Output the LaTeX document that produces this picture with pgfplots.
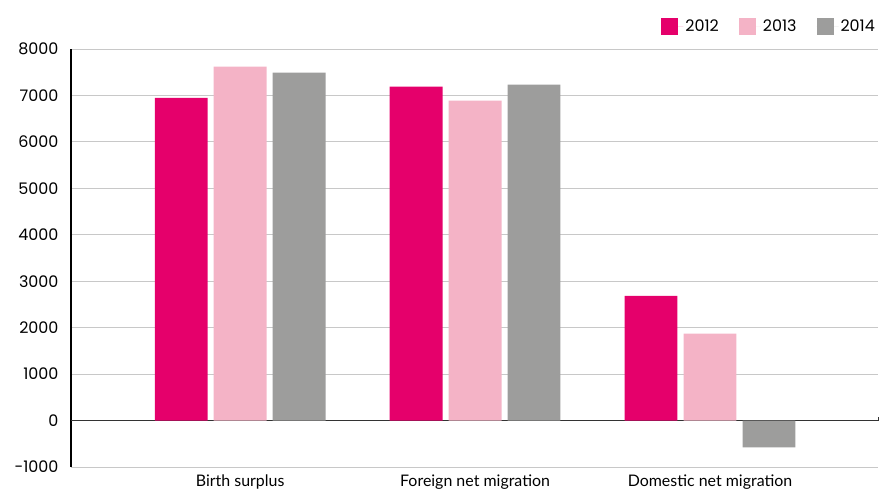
\documentclass[border=0pt]{standalone}
\usepackage{pgfplots}
\pgfplotsset{compat=1.18}
\usetikzlibrary{calc}
\usepackage{fontspec}
\setmainfont{Poppins}
\newfontfamily\catfont{Lato}

\definecolor{cA}{HTML}{E5006B}
\definecolor{cB}{HTML}{F4B3C6}
\definecolor{cC}{HTML}{9D9D9C}
\definecolor{gridc}{HTML}{C8C8C8}

\begin{document}
\begin{tikzpicture}[x=1bp,y=1bp]
\begin{axis}[
  name=ax,
  scale only axis,
  width=807bp, height=418bp,
  xmin=-0.72, xmax=2.715,
  ymin=-1000, ymax=8000,
  ytick={-1000,0,1000,2000,3000,4000,5000,6000,7000,8000},
  xtick={0,1,2},
  xticklabels={Birth surplus, Foreign net migration, Domestic net migration},
  xticklabel style={font=\catfont\fontsize{16}{18}\selectfont, yshift=-4bp},
  yticklabel style={font=\fontsize{16}{18}\selectfont, xshift=-9bp},
  /pgf/number format/assume math mode=true,
  /pgf/number format/set thousands separator={},
  major tick length=0pt,
  axis lines*=left,
  x axis line style={draw=none},
  y axis line style={black, line width=1.2pt, -},
  ymajorgrids,
  grid style={gridc, line width=0.8pt},
  extra y ticks={0},
  extra y tick labels={},
  extra y tick style={grid style={black!80, line width=1.3pt}},
  ybar, bar width=0.225,
  legend style={at={(1,1)}, anchor=south east, draw=none, fill=none,
    legend columns=3, font=\fontsize{16}{18}\selectfont,
    /tikz/every even column/.append style={column sep=18bp},
    yshift=12bp, xshift=2bp},
  legend image code/.code={
    \fill[#1] (0bp,-8.5bp) rectangle (17bp,8.5bp);
    \path (0bp,0bp) -- (22bp,0bp);},
  clip=false,
]
\addplot[fill=cA, draw=none, bar shift=-0.251] coordinates {(0,6950) (1,7190) (2,2685)};
\addplot[fill=cB, draw=none, bar shift=0] coordinates {(0,7620) (1,6890) (2,1870)};
\addplot[fill=cC, draw=none, bar shift=0.251] coordinates {(0,7490) (1,7235) (2,-580)};
\legend{2012, 2013, 2014}
\end{axis}
\draw[black!80, line width=1pt] ($(ax.south east)+(0,46.4bp)$) -- ++(0,4bp);
\path ($(ax.south west)+(-71bp,-27bp)$) rectangle ($(ax.north east)+(4bp,49bp)$);
\end{tikzpicture}
\end{document}
